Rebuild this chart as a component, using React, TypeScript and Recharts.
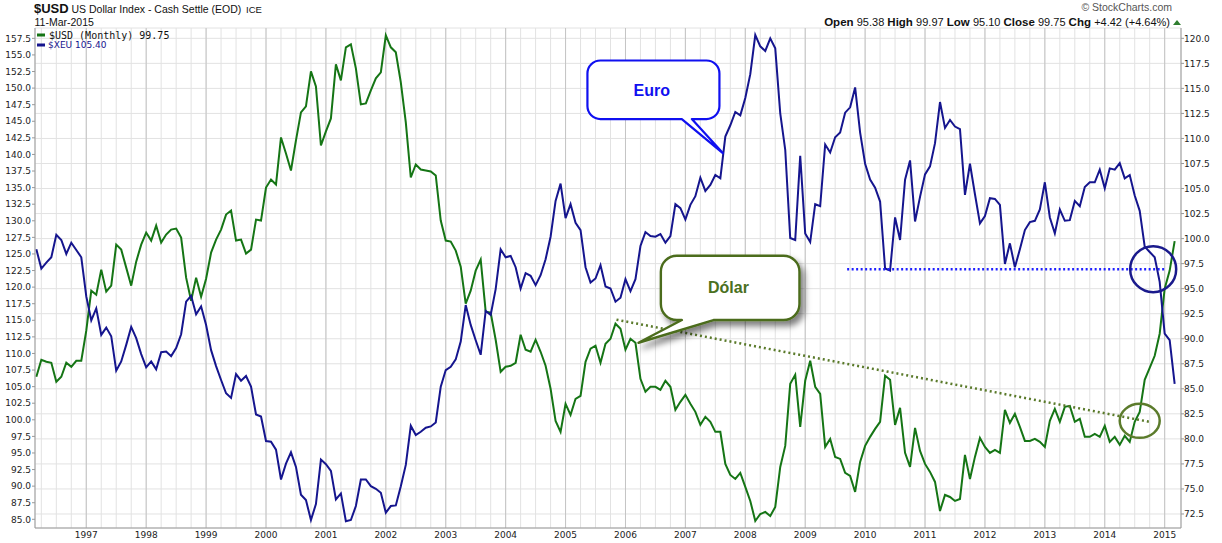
import {
  LineChart,
  Line,
  XAxis,
  YAxis,
  CartesianGrid,
  ReferenceLine,
  ReferenceDot,
} from 'recharts';

// monthly closes, Mar 1996 .. Mar 2015
const usd = [
  86.2, 87.9, 87.7, 87.6, 85.7, 86.2, 87.6, 87.2, 87.8, 87.8,
  90.8, 94.8, 94.4, 96.9, 94.7, 95.3, 99.4, 98.9, 97.1, 95.3, 97.7, 99.4,
  100.6, 99.8, 101.3, 99.6, 100.4, 100.9, 101.0, 100.1, 96.1, 93.8, 96.1, 94.2,
  96.0, 98.6, 99.9, 100.9, 102.4, 102.8, 99.8, 99.9, 98.5, 98.9, 101.9, 101.8,
  105.1, 105.9, 105.4, 110.1, 108.5, 106.8, 109.8, 112.6, 113.2, 116.7, 115.2, 109.3,
  110.7, 112.0, 117.4, 115.8, 119.1, 119.4, 117.0, 113.4, 113.5, 114.8, 116.0, 116.6,
  120.3, 119.1, 118.6, 115.6, 111.6, 106.1, 107.4, 106.9, 106.8, 106.7, 106.3, 101.8,
  99.8, 99.7, 98.8, 97.2, 93.5, 94.8, 96.8, 97.9, 92.7, 92.6, 89.9, 86.7,
  87.2, 87.3, 87.6, 90.4, 88.9, 88.7, 89.9, 88.7, 87.3, 85.0, 81.8, 80.7,
  83.5, 82.4, 84.0, 84.3, 87.7, 89.0, 89.3, 87.6, 89.5, 90.0, 91.5, 91.0,
  88.9, 90.0, 89.6, 86.0, 84.7, 85.2, 85.2, 84.9, 85.8, 85.2, 82.9, 83.7,
  84.4, 83.5, 82.7, 81.4, 82.2, 81.7, 80.7, 80.7, 77.5, 76.4, 76.0, 76.6,
  75.2, 73.8, 71.8, 72.5, 72.7, 72.3, 73.2, 77.2, 79.3, 85.5, 86.4, 81.2,
  85.8, 87.8, 85.2, 84.5, 79.2, 80.0, 78.2, 78.0, 76.6, 76.3, 74.7, 77.7,
  79.3, 80.2, 81.0, 81.7, 86.3, 85.9, 81.4, 83.1, 78.6, 77.2, 81.1, 78.8,
  77.5, 76.7, 75.7, 72.8, 74.4, 74.2, 73.8, 74.0, 78.4, 76.0, 78.2, 80.1,
  79.2, 78.6, 78.9, 78.6, 82.9, 81.6, 82.5, 81.2, 79.8, 79.8, 80.0, 79.7,
  79.2, 81.8, 83.0, 81.7, 83.2, 83.3, 81.7, 82.0, 80.2, 80.2, 80.5, 80.2,
  81.3, 79.7, 80.2, 79.4, 80.3, 79.7, 81.7, 82.7, 85.9, 87.1, 88.3, 90.5,
  95.0, 96.8, 99.75,
];

const xeu = [
  125.7, 122.8, 123.7, 124.5, 127.9, 127.1, 125.0, 126.7, 125.6, 124.5,
  118.6, 115.0, 116.8, 112.8, 113.9, 112.6, 107.4, 108.8, 111.3, 114.0, 112.3, 109.9,
  107.9, 108.8, 107.6, 110.2, 110.3, 109.6, 110.8, 112.9, 117.8, 118.7, 115.9, 117.1,
  114.3, 110.5, 108.1, 106.0, 104.0, 103.3, 106.9, 105.9, 106.6, 105.0, 100.8, 100.5,
  96.8, 96.7, 95.5, 91.0, 93.4, 95.1, 92.9, 88.7, 87.9, 84.9, 87.3, 94.0,
  93.3, 92.3, 88.0, 88.9, 84.7, 84.9, 87.0, 91.0, 91.0, 90.0, 89.6, 89.0,
  86.0, 87.0, 87.1, 90.0, 93.2, 99.1, 97.7, 98.2, 98.8, 99.0, 99.6, 105.0,
  107.5, 108.0, 109.1, 111.8, 117.3, 114.3, 112.0, 109.8, 116.4, 115.8, 119.7, 125.7,
  124.5, 124.7, 123.0, 119.8, 122.1, 121.7, 120.3, 121.8, 124.2, 127.6, 133.0, 135.6,
  130.4, 132.5, 129.7, 128.6, 123.0, 120.7, 121.3, 123.3, 120.1, 119.8, 117.8, 118.4,
  121.2, 119.4, 121.2, 126.2, 128.3, 127.7, 127.6, 128.0, 126.7, 127.7, 132.5, 131.9,
  130.2, 132.4, 133.7, 136.5, 134.5, 135.4, 136.9, 136.4, 142.7, 144.4, 146.4, 145.9,
  148.5, 152.1, 158.0, 156.3, 155.6, 157.5, 156.0, 146.2, 140.7, 127.4, 127.1, 139.8,
  128.1, 126.8, 132.5, 132.2, 141.5, 140.3, 142.6, 143.3, 146.3, 147.1, 150.1, 143.3,
  138.6, 136.2, 135.0, 132.9, 122.8, 122.5, 130.5, 127.1, 136.2, 139.1, 129.9, 133.6,
  137.0, 138.2, 141.7, 147.9, 144.0, 145.2, 144.2, 143.8, 133.9, 138.6, 134.0, 129.6,
  130.7, 133.4, 133.3, 132.4, 123.5, 126.6, 123.0, 125.7, 128.6, 129.8, 130.0, 131.7,
  135.8, 130.5, 128.1, 131.7, 130.0, 130.1, 133.0, 132.2, 135.1, 135.8, 135.8, 137.7,
  134.9, 137.9, 137.7, 138.7, 136.4, 136.9, 133.8, 131.5, 126.1, 125.3, 124.5, 120.8,
  113.0, 112.0, 105.4,
];

const years = [
  '1997', '1998', '1999', '2000', '2001', '2002', '2003', '2004', '2005', '2006',
  '2007', '2008', '2009', '2010', '2011', '2012', '2013', '2014', '2015',
];

const leftTicks = [
  85, 87.5, 90, 92.5, 95, 97.5, 100, 102.5, 105, 107.5, 110, 112.5, 115, 117.5, 120,
  122.5, 125, 127.5, 130, 132.5, 135, 137.5, 140, 142.5, 145, 147.5, 150, 152.5, 155, 157.5,
];
const rightTicks = [
  72.5, 75, 77.5, 80, 82.5, 85, 87.5, 90, 92.5, 95, 97.5, 100, 102.5, 105, 107.5,
  110, 112.5, 115, 117.5, 120,
];

// annotations (month index, axis value)
const usdTrend = [{ x: 116.2, y: 91.9 }, { x: 223, y: 81.7 }];
const euroSupport = [{ x: 162.4, y: 122.7 }, { x: 226.1, y: 122.7 }];
const euroCircle = { x: 223.7, y: 122.7 };
const usdCircle = { x: 221, y: 81.8 };
const euroTip = { x: 137.5, y: 140.2 };
const dolarTip = { x: 120.6, y: 89.6 };

const data = usd.map((v, i) => ({ k: i, usd: v, xeu: xeu[i] }));
const quarterTicks = data.filter((d) => d.k % 3 === 1).map((d) => d.k);
const yearTicks = years.map((_, i) => 10 + 12 * i);

const GREEN = '#157515';
const BLUE = '#15158e';
const axisFont = 'DejaVu Sans, Verdana, sans-serif';
const headFont = 'Liberation Sans, Arial, sans-serif';

function YearTick({ x, y, payload }: any) {
  const i = yearTicks.indexOf(payload.value);
  if (i < 0) return <g />;
  return (
    <text x={x} y={y + 10} textAnchor="middle" fontSize={9} fontFamily={axisFont} fill="#222">
      {years[i]}
    </text>
  );
}

function EuroCallout({ cx, cy }: any) {
  const L = cx - 135.4, R = cx - 3.4, T = cy - 92.6, B = cy - 34, r = 13;
  const p1 = cx - 41, p2 = cx - 31;
  const d = `M${L + r},${T} H${R - r} A${r},${r} 0 0 1 ${R},${T + r} V${B - r} A${r},${r} 0 0 1 ${R - r},${B} H${p2} L${cx},${cy} L${p1},${B} H${L + r} A${r},${r} 0 0 1 ${L},${B - r} V${T + r} A${r},${r} 0 0 1 ${L + r},${T} Z`;
  return (
    <g>
      <path d={d} fill="#ffffff" stroke="#1010f0" strokeWidth={2.2} strokeLinejoin="round" />
      <text x={cx - 71} y={cy - 57.5} textAnchor="middle" fontSize={16} fontWeight="bold" fontFamily={headFont} fill="#1010f0">
        Euro
      </text>
    </g>
  );
}

function DolarCallout({ cx, cy }: any) {
  const L = cx + 22.4, R = cx + 161, T = cy - 87, B = cy - 22.7, r = 16;
  const p1 = cx + 43.4, p2 = cx + 75;
  const d = `M${L + r},${T} H${R - r} A${r},${r} 0 0 1 ${R},${T + r} V${B - r} A${r},${r} 0 0 1 ${R - r},${B} H${p2} L${cx},${cy} L${p1},${B} H${L + r} A${r},${r} 0 0 1 ${L},${B - r} V${T + r} A${r},${r} 0 0 1 ${L + r},${T} Z`;
  return (
    <g>
      <defs>
        <filter id="dshadow" x="-20%" y="-20%" width="150%" height="160%">
          <feDropShadow dx="4" dy="5" stdDeviation="3" floodColor="#000" floodOpacity="0.5" />
        </filter>
      </defs>
      <path d={d} fill="#ffffff" stroke="#4b6c1c" strokeWidth={2.4} strokeLinejoin="round" filter="url(#dshadow)" />
      <text x={cx + 90} y={cy - 49.4} textAnchor="middle" fontSize={16} fontWeight="bold" fontFamily={headFont} fill="#4a7020">
        Dólar
      </text>
    </g>
  );
}

function Header() {
  const lastUsd = usd[usd.length - 1].toFixed(2);
  const lastXeu = xeu[xeu.length - 1].toFixed(2);
  return (
    <svg width={1222} height={60} style={{ position: 'absolute', left: 0, top: 0, pointerEvents: 'none' }}>
      <text x={34} y={13} fontSize={13} fontWeight="bold" fontFamily={headFont} fill="#111">$USD</text>
      <text x={71.5} y={12.6} fontSize={10.5} fontFamily={headFont} fill="#111">US Dollar Index - Cash Settle (EOD)</text>
      <text x={246} y={12.6} fontSize={9.5} fontFamily={headFont} fill="#111">ICE</text>
      <text x={34.5} y={26} fontSize={10.5} fontFamily={headFont} fill="#111">11-Mar-2015</text>
      <text x={1172} y={11} textAnchor="end" fontSize={10.5} fontFamily={headFont} fill="#555">© StockCharts.com</text>
      <text x={1170} y={26} textAnchor="end" fontFamily={headFont} fill="#111">
        <tspan fontWeight="bold" fontSize={11.5}>Open </tspan>
        <tspan fontSize={11}>95.38  </tspan>
        <tspan fontWeight="bold" fontSize={11.5}> High </tspan>
        <tspan fontSize={11}>99.97  </tspan>
        <tspan fontWeight="bold" fontSize={11.5}> Low </tspan>
        <tspan fontSize={11}>95.10  </tspan>
        <tspan fontWeight="bold" fontSize={11.5}> Close </tspan>
        <tspan fontSize={11}>99.75  </tspan>
        <tspan fontWeight="bold" fontSize={11.5}> Chg </tspan>
        <tspan fontSize={11}>+4.42 (+4.64%)</tspan>
      </text>
      <path d="M1173,25 L1177,20 L1181,25 Z" fill="#2e7d2e" />
      <rect x={37} y={33.5} width={8} height={3} fill={GREEN} />
      <text x={49} y={38.6} fontSize={10} fontFamily="DejaVu Sans Mono, monospace" fill="#111">
        {`$USD (Monthly) ${lastUsd}`}
      </text>
      <rect x={37} y={43.5} width={8} height={3} fill={BLUE} />
      <text x={48} y={48.4} fontSize={9} fontFamily={axisFont} fill={BLUE}>
        {`$XEU ${lastXeu}`}
      </text>
    </svg>
  );
}

export default function App() {
  return (
    <div style={{ position: 'absolute', left: 0, top: 0, width: 1222, height: 543, background: '#fff' }}>
      <LineChart width={1222} height={543} data={data} margin={{ top: 28, right: 0, bottom: 0, left: 0 }}>
        <CartesianGrid yAxisId="right" stroke="#e2e2e2" strokeWidth={1} />
        {yearTicks.map((k) => (
          <ReferenceLine key={k} x={k} yAxisId="left" stroke="#c4c4c4" strokeWidth={1} />
        ))}
        <XAxis
          dataKey="k"
          type="number"
          domain={[-0.27, 229.27]}
          allowDataOverflow
          ticks={quarterTicks}
          interval={0}
          height={15}
          tickSize={0}
          tickMargin={0}
          tickLine={false}
          tick={<YearTick />}
          axisLine={{ stroke: '#999' }}
        />
        <XAxis
          xAxisId="top"
          orientation="top"
          dataKey="k"
          type="number"
          domain={[-0.27, 229.27]}
          allowDataOverflow
          height={0}
          tick={false}
          tickLine={false}
          axisLine={{ stroke: '#aaa' }}
        />
        <YAxis
          yAxisId="left"
          orientation="left"
          domain={[83.69, 159.06]}
          allowDataOverflow
          ticks={leftTicks}
          interval={0}
          width={35}
          tickSize={3}
          tickMargin={1}
          tickFormatter={(v: number) => v.toFixed(1)}
          tick={{ fontSize: 9, fontFamily: axisFont, fill: '#222' }}
          tickLine={{ stroke: '#999' }}
          axisLine={{ stroke: '#999' }}
        />
        <YAxis
          yAxisId="right"
          orientation="right"
          domain={[71.1, 121.03]}
          allowDataOverflow
          ticks={rightTicks}
          interval={0}
          width={41}
          tickSize={3}
          tickMargin={0}
          tickFormatter={(v: number) => v.toFixed(1)}
          tick={{ fontSize: 9, fontFamily: axisFont, fill: '#222' }}
          tickLine={{ stroke: '#999' }}
          axisLine={{ stroke: '#999' }}
        />
        <Line
          yAxisId="right"
          dataKey="usd"
          stroke={GREEN}
          strokeWidth={2}
          dot={false}
          activeDot={false}
          isAnimationActive={false}
        />
        <Line
          yAxisId="left"
          dataKey="xeu"
          stroke={BLUE}
          strokeWidth={2}
          dot={false}
          activeDot={false}
          isAnimationActive={false}
        />
        <ReferenceLine
          yAxisId="right"
          segment={usdTrend}
          stroke="#5a7a2a"
          strokeWidth={2.5}
          strokeDasharray="2 3"
        />
        <ReferenceLine
          yAxisId="left"
          segment={euroSupport}
          stroke="#2020ff"
          strokeWidth={2.5}
          strokeDasharray="2 2.5"
        />
        <ReferenceDot
          yAxisId="left"
          x={euroCircle.x}
          y={euroCircle.y}
          shape={(p: any) => <circle cx={p.cx} cy={p.cy} r={23} fill="none" stroke="#1a1a8c" strokeWidth={2.5} />}
        />
        <ReferenceDot
          yAxisId="right"
          x={usdCircle.x}
          y={usdCircle.y}
          shape={(p: any) => <ellipse cx={p.cx} cy={p.cy} rx={20} ry={17} fill="none" stroke="#5b7b2b" strokeWidth={2.5} />}
        />
        <ReferenceDot
          yAxisId="left"
          x={euroTip.x}
          y={euroTip.y}
          shape={(p: any) => <EuroCallout cx={p.cx} cy={p.cy} />}
        />
        <ReferenceDot
          yAxisId="right"
          x={dolarTip.x}
          y={dolarTip.y}
          shape={(p: any) => <DolarCallout cx={p.cx} cy={p.cy} />}
        />
      </LineChart>
      <Header />
    </div>
  );
}
